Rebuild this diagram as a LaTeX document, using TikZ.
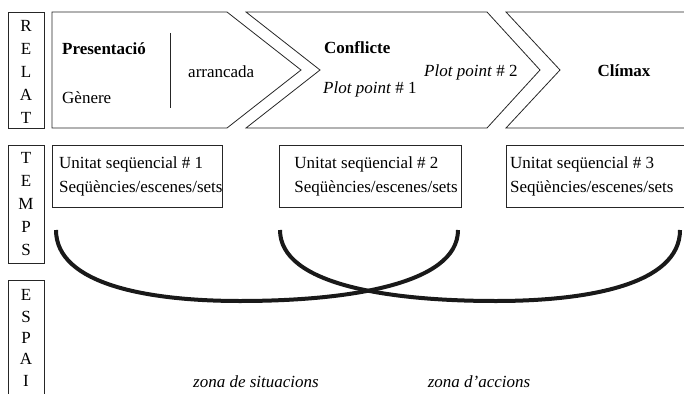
\documentclass[tikz,border=0pt]{standalone}
\usepackage{fontspec}
\setmainfont{Liberation Serif}
\begin{document}
\begin{tikzpicture}[x=1pt,y=-1pt,
  frame/.style={draw=black!85,line width=0.8pt},
  txt/.style={inner sep=0pt,font=\fontsize{17}{24}\selectfont},
  stack/.style={inner sep=0pt,align=center,font=\fontsize{17}{23}\selectfont},
  arc/.style={line width=4pt,black!90}]
\useasboundingbox (0,0) rectangle (684,393);
% side labels
\draw[frame] (8,12) rectangle (44,128);
\node[stack] (relat) at (26,72) {R\\E\\L\\A\\T};
\draw[frame] (8,145) rectangle (44,263);
\node[stack] (temps) at (26,204) {T\\E\\M\\P\\S};
\draw[frame] (8,394) -- (8,280) -- (44,280) -- (44,394);
\node[stack,font=\fontsize{17}{21.3}\selectfont] (espai) at (26,338) {E\\S\\P\\A\\I};
% chevrons
\draw[frame,line join=miter] (52,12) -- (227,12) -- (301,70) -- (227,128) -- (52,128) -- cycle;
\draw[frame,line join=miter] (246,12) -- (487,12) -- (540,70) -- (487,128) -- (246,128) -- (320,70) -- cycle;
\draw[frame,line join=miter] (690,12) -- (506,12) -- (560,70) -- (506,128) -- (690,128);
\draw[frame] (170,33) -- (170,108);
\node[txt,anchor=base west,font=\fontsize{17}{24}\selectfont\bfseries] (pres) at (62,55) {Presentació};
\node[txt,anchor=base west] (gen) at (62,103) {Gènere};
\node[txt,anchor=base west] (arr) at (188,78) {arrancada};
\node[txt,anchor=base west,font=\fontsize{17}{24}\selectfont\bfseries] (conf) at (324,54) {Conflicte};
\node[txt,anchor=base west] (pp2) at (424,77) {\textit{Plot point} \# 2};
\node[txt,anchor=base west] (pp1) at (323,94) {\textit{Plot point} \# 1};
\node[txt,anchor=base,font=\fontsize{17}{24}\selectfont\bfseries] (clim) at (624,77) {Clímax};
% unit boxes
\draw[frame] (52,145) rectangle (222,207);
\node[txt,anchor=base west,align=left] (u1) at (59,192) {Unitat seqüencial \# 1\\Seqüències/escenes/sets};
\draw[frame] (279,145) rectangle (461,207);
\node[txt,anchor=base east,align=left] (u2) at (458,192) {Unitat seqüencial \# 2\\Seqüències/escenes/sets};
\draw[frame] (690,145) -- (506,145) -- (506,207) -- (690,207);
\node[txt,anchor=base west,align=left] (u3) at (510,192) {Unitat seqüencial \# 3\\Seqüències/escenes/sets};
% arcs
\coordinate (a1) at (56,230);
\coordinate (a2) at (458,230);
\coordinate (b1) at (280,230);
\coordinate (b2) at (680,230);
\draw[arc] (a1) .. controls (56,285) and (150,301) .. (240,301) .. controls (345,301) and (458,285) .. (a2);
\draw[arc] (b1) .. controls (280,285) and (390,301) .. (496,301) .. controls (586,301) and (680,285) .. (b2);
% zones
\node[txt,anchor=base] (zs) at (256,387) {\textit{zona de situacions}};
\node[txt,anchor=base] (za) at (479,387) {\textit{zona d’accions}};
\end{tikzpicture}
\end{document}
